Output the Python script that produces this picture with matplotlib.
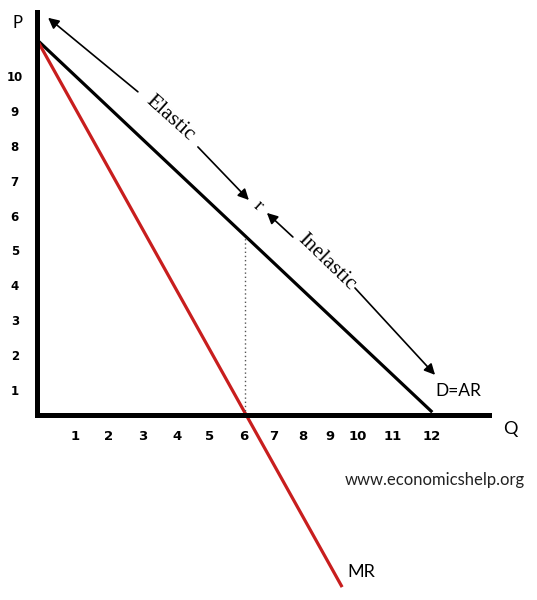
import matplotlib.pyplot as plt
from matplotlib.transforms import ScaledTranslation

# demand (AR) and marginal revenue lines
demand_q = [0, 11.4]
demand_p = [10.75, 0.08]
mr_q = [0, 8.8]
mr_p = [10.75, -4.93]

# point where MR = 0 (unit elasticity)
q_unit = 6.0
p_unit = 5.1

# hand-placed tick labels
q_labels = ['1', '2', '3', '4', '5', '6', '7', '8', '9', '10', '11', '12']
q_label_pos = [1.10, 2.05, 3.06, 4.04, 4.99, 5.97, 6.84, 7.67, 8.45, 9.26, 10.27, 11.39]
p_labels = ['1', '2', '3', '4', '5', '6', '7', '8', '9', '10']
p_label_pos = [1, 2, 3, 4, 5, 6, 7, 8, 9, 10]

sans = ['Lato', 'DejaVu Sans']
serif = ['Liberation Serif', 'DejaVu Serif']
red = '#c81e1e'

fig = plt.figure(figsize=(5.37, 6.0), dpi=100)
ax = fig.add_axes([0, 0, 1, 1])
ax.set_xlim(-1.067, 14.42)
ax.set_ylim(-5.30, 11.89)
ax.patch.set_visible(False)

# axes drawn as thick spines through the origin
for side in ['top', 'right']:
    ax.spines[side].set_visible(False)
ax.spines['left'].set_position(('data', 0))
ax.spines['bottom'].set_position(('data', 0))
ax.spines['left'].set_bounds(0, 11.55)
ax.spines['bottom'].set_bounds(0, 13.04)
for side in ['left', 'bottom']:
    ax.spines[side].set_linewidth(3.6)
    ax.spines[side].set_capstyle('projecting')

ax.set_xticks(q_label_pos, q_labels, fontsize=9.5, fontweight='bold', family='DejaVu Sans')
ax.set_yticks(p_label_pos, p_labels, fontsize=8.5, fontweight='bold', family='DejaVu Sans')
ax.tick_params(axis='x', length=0, pad=11)
ax.tick_params(axis='y', length=0, pad=16)
shift = ScaledTranslation(0, -0.10, fig.dpi_scale_trans)
for lab in ax.get_yticklabels():
    lab.set_horizontalalignment('center')
    lab.set_transform(lab.get_transform() + shift)

# curves
ax.plot(demand_q, demand_p, color='black', lw=2.3, solid_capstyle='butt')
ax.plot(mr_q, mr_p, color=red, lw=2.3, solid_capstyle='butt')
ax.plot([q_unit, q_unit], [0, p_unit], color='#555555', lw=1.0, linestyle=(0, (1, 2)))

# elastic / inelastic arrows
arrow = dict(arrowstyle='-|>', color='black', lw=1.2, mutation_scale=16, shrinkA=0, shrinkB=0)
ax.annotate('', xy=(0.32, 11.38), xytext=(2.91, 9.26), arrowprops=arrow)
ax.annotate('', xy=(6.11, 6.16), xytext=(4.64, 7.68), arrowprops=arrow)
ax.annotate('', xy=(6.63, 5.79), xytext=(7.38, 5.10), arrowprops=arrow)
ax.annotate('', xy=(11.48, 1.15), xytext=(9.17, 3.64), arrowprops=arrow)

ax.text(3.84, 8.51, 'Elastic', rotation=-42, ha='center', va='center',
        fontsize=15.5, family=serif, rotation_mode='anchor')
ax.text(8.36, 4.38, 'Inelastic', rotation=-44, ha='center', va='center',
        fontsize=15.5, family=serif, rotation_mode='anchor')
ax.text(6.37, 5.99, 'r', rotation=-42, ha='center', va='center',
        fontsize=14, family=serif, rotation_mode='anchor')

# labels
ax.text(-0.56, 11.23, 'P', ha='center', va='center', fontsize=12, family=sans)
ax.text(13.64, -0.40, 'Q', ha='center', va='center', fontsize=13, family=sans)
ax.text(12.14, 0.69, 'D=AR', ha='center', va='center', fontsize=12.5, family=sans)
ax.text(9.35, -4.50, 'MR', ha='center', va='center', fontsize=13, family=sans)
ax.text(11.48, -1.86, 'www.economicshelp.org', ha='center', va='center',
        fontsize=12, family=sans, color='#222222')

fig.savefig('out.png', dpi=100)
